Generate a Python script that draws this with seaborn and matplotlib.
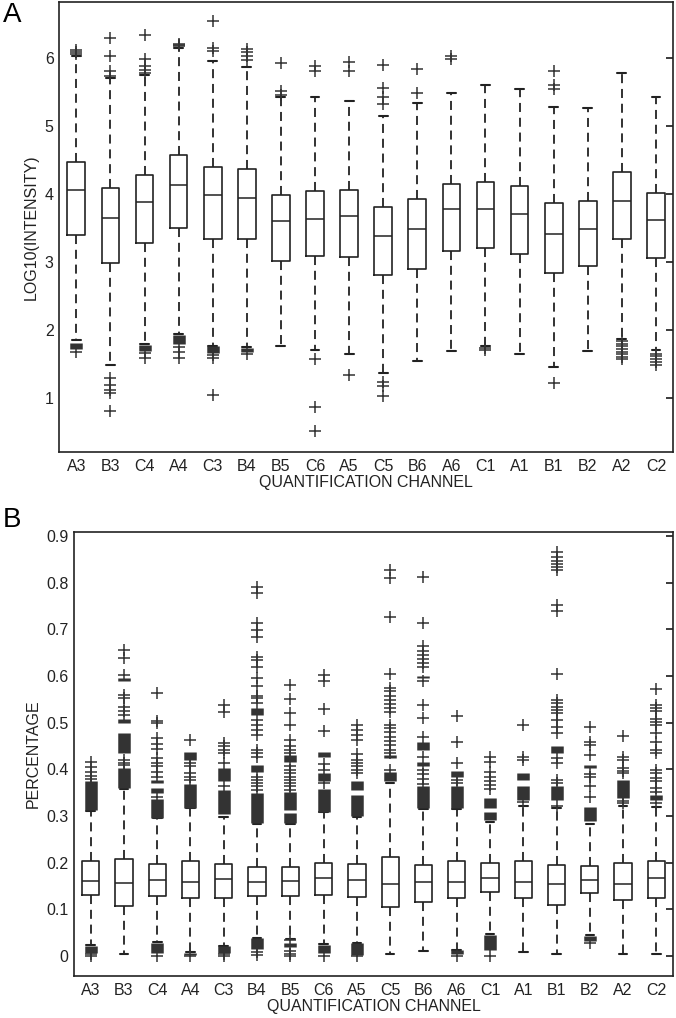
import numpy as np
import pandas as pd
import matplotlib
matplotlib.use('Agg')
import matplotlib.pyplot as plt
import seaborn as sns

channels = ['A3', 'B3', 'C4', 'A4', 'C3', 'B4', 'B5', 'C6', 'A5',
            'C5', 'B6', 'A6', 'C1', 'A1', 'B1', 'B2', 'A2', 'C2']

# ---- panel A : log10(intensity) ----
lo_a = [1.85, 1.49, 1.80, 1.94, 1.77, 1.75, 1.77, 1.70, 1.64,
        1.37, 1.54, 1.69, 1.77, 1.64, 1.45, 1.69, 1.87, 1.70]
q1_a = [3.40, 2.99, 3.28, 3.50, 3.34, 3.33, 3.01, 3.09, 3.07,
        2.80, 2.90, 3.16, 3.20, 3.12, 2.84, 2.94, 3.33, 3.06]
med_a = [4.05, 3.65, 3.88, 4.13, 3.99, 3.94, 3.60, 3.63, 3.67,
         3.38, 3.49, 3.78, 3.78, 3.70, 3.41, 3.49, 3.90, 3.61]
q3_a = [4.47, 4.08, 4.28, 4.57, 4.40, 4.36, 3.99, 4.04, 4.06,
        3.80, 3.92, 4.15, 4.17, 4.11, 3.87, 3.90, 4.32, 4.02]
hi_a = [6.03, 5.71, 5.75, 6.15, 5.96, 5.86, 5.42, 5.43, 5.36,
        5.14, 5.33, 5.48, 5.60, 5.54, 5.27, 5.26, 5.77, 5.43]
out_a = [
    [6.06, 6.09, 6.12, 1.68],
    [6.29, 6.03, 5.81, 5.74, 1.30, 1.19, 1.12, 1.08, 0.81],
    [6.33, 5.98, 5.88, 5.82, 5.77, 1.66, 1.58],
    [6.17, 6.19, 6.21, 1.75, 1.68, 1.58],
    [6.54, 6.15, 6.10, 1.63, 1.59, 1.05],
    [6.13, 6.08, 6.03, 5.97, 1.65],
    [5.93, 5.51, 5.46],
    [5.88, 5.81, 1.57, 0.87, 0.52],
    [5.94, 5.81, 1.34],
    [5.90, 5.56, 5.42, 5.32, 1.24, 1.18, 1.03],
    [5.84, 5.48],
    [6.03, 5.98],
    [1.74, 1.71],
    [],
    [5.80, 5.60, 5.54, 1.22],
    [],
    [1.84, 1.80, 1.76, 1.72, 1.68, 1.64, 1.60, 1.57],
    [1.65, 1.61, 1.57, 1.53, 1.49],
]
# dense clusters of outliers (drawn as solid bars)
band_a_chan = ['A3', 'C4', 'A4', 'C3', 'B4']
band_a_lo = [1.72, 1.69, 1.80, 1.66, 1.68]
band_a_hi = [1.81, 1.78, 1.93, 1.76, 1.73]

# ---- panel B : percentage ----
lo_b = [0.024, 0.005, 0.030, 0.009, 0.021, 0.039, 0.036, 0.026, 0.028,
        0.003, 0.011, 0.013, 0.047, 0.009, 0.005, 0.045, 0.005, 0.005]
q1_b = [0.130, 0.107, 0.128, 0.125, 0.125, 0.128, 0.128, 0.130, 0.126,
        0.104, 0.116, 0.125, 0.136, 0.124, 0.110, 0.134, 0.119, 0.124]
med_b = [0.161, 0.156, 0.162, 0.158, 0.164, 0.158, 0.161, 0.166, 0.162,
         0.155, 0.158, 0.158, 0.166, 0.158, 0.153, 0.162, 0.155, 0.166]
q3_b = [0.203, 0.207, 0.196, 0.203, 0.196, 0.191, 0.191, 0.200, 0.196,
        0.212, 0.194, 0.204, 0.198, 0.204, 0.194, 0.193, 0.200, 0.203]
hi_b = [0.310, 0.358, 0.295, 0.316, 0.298, 0.283, 0.283, 0.308, 0.298,
        0.370, 0.314, 0.315, 0.286, 0.322, 0.316, 0.283, 0.322, 0.320]
out_b = [
    [0.380, 0.386, 0.393, 0.405, 0.416, 0.0, 0.003],
    [0.656, 0.638, 0.602, 0.559, 0.552, 0.534, 0.524, 0.516, 0.420, 0.413, 0.408],
    [0.563, 0.504, 0.499, 0.466, 0.454, 0.443, 0.424, 0.413, 0.406, 0.395, 0.384, 0.340, 0.0],
    [0.463, 0.413, 0.406, 0.391, 0.384, 0.377, 0.0],
    [0.537, 0.523, 0.456, 0.449, 0.441, 0.434, 0.413, 0.363, 0.0, 0.003],
    [0.791, 0.777, 0.713, 0.699, 0.684, 0.641, 0.634, 0.620, 0.595, 0.579, 0.557, 0.552,
     0.542, 0.506, 0.495, 0.484, 0.474, 0.441, 0.434, 0.427, 0.384, 0.377, 0.370, 0.363,
     0.356, 0.009, 0.002],
    [0.581, 0.551, 0.520, 0.495, 0.463, 0.449, 0.441, 0.434, 0.406, 0.399, 0.391, 0.384,
     0.377, 0.370, 0.363, 0.356, 0.034, 0.011, 0.004, 0.0],
    [0.602, 0.590, 0.529, 0.481, 0.411, 0.399, 0.370, 0.0],
    [0.495, 0.484, 0.474, 0.463, 0.433, 0.420, 0.413, 0.406, 0.399, 0.391, 0.0],
    [0.827, 0.809, 0.727, 0.604, 0.575, 0.567, 0.557, 0.549, 0.540, 0.531, 0.522, 0.495,
     0.488, 0.479, 0.469, 0.460, 0.451, 0.441, 0.434, 0.399],
    [0.813, 0.713, 0.664, 0.654, 0.645, 0.636, 0.627, 0.619, 0.588, 0.538, 0.509, 0.470,
     0.427, 0.399, 0.390, 0.380, 0.369],
    [0.513, 0.459, 0.413, 0.377, 0.371, 0.0],
    [0.427, 0.416, 0.393, 0.384, 0.375, 0.366, 0.357, 0.0],
    [0.495, 0.427, 0.420, 0.329],
    [0.865, 0.854, 0.847, 0.840, 0.833, 0.827, 0.751, 0.740, 0.603, 0.549, 0.542, 0.534,
     0.527, 0.520, 0.506, 0.491, 0.477, 0.424, 0.413, 0.377, 0.370, 0.321],
    [0.491, 0.459, 0.452, 0.431, 0.390, 0.384, 0.364, 0.341, 0.028],
    [0.471, 0.427, 0.420, 0.402, 0.396, 0.391, 0.331, 0.327],
    [0.571, 0.538, 0.531, 0.524, 0.507, 0.501, 0.495, 0.477, 0.459, 0.441, 0.434, 0.399,
     0.391, 0.381, 0.374, 0.359, 0.352, 0.327],
]
band_b_chan = ['A3', 'A3', 'B3', 'B3', 'B3', 'B3', 'C4', 'C4', 'C4', 'C4',
               'A4', 'A4', 'A4', 'C3', 'C3', 'C3', 'B4', 'B4', 'B4', 'B4',
               'B5', 'B5', 'B5', 'B5', 'C6', 'C6', 'C6', 'C6', 'A5', 'A5', 'A5',
               'C5', 'C5', 'B6', 'B6', 'B6', 'B6', 'A6', 'A6', 'A6',
               'C1', 'C1', 'C1', 'A1', 'A1', 'B1', 'B1', 'B2', 'B2', 'B2',
               'A2', 'C2']
band_b_lo = [0.313, 0.006, 0.359, 0.434, 0.499, 0.588, 0.295, 0.349, 0.370, 0.006,
             0.316, 0.420, 0.001, 0.305, 0.374, 0.006, 0.284, 0.395, 0.516, 0.014,
             0.284, 0.313, 0.416, 0.020, 0.309, 0.374, 0.427, 0.006, 0.299, 0.356, 0.002,
             0.375, 0.425, 0.316, 0.406, 0.441, 0.595, 0.316, 0.384, 0.005,
             0.291, 0.316, 0.012, 0.334, 0.377, 0.334, 0.434, 0.288, 0.402, 0.032,
             0.338, 0.334]
band_b_hi = [0.375, 0.021, 0.402, 0.478, 0.507, 0.596, 0.336, 0.359, 0.377, 0.028,
             0.369, 0.436, 0.007, 0.356, 0.402, 0.021, 0.349, 0.410, 0.531, 0.039,
             0.306, 0.352, 0.431, 0.028, 0.357, 0.392, 0.436, 0.024, 0.345, 0.374, 0.027,
             0.395, 0.430, 0.363, 0.416, 0.459, 0.600, 0.363, 0.397, 0.012,
             0.309, 0.338, 0.044, 0.363, 0.391, 0.363, 0.449, 0.320, 0.409, 0.042,
             0.377, 0.345]

sns.set_theme(style='white')
plt.rcParams['font.family'] = ['Liberation Sans', 'DejaVu Sans']
ink = '#222222'
grey = '#333333'


def box_frame(lo, q1, med, q3, hi):
    # five values per channel -> quartiles & whisker ends come out exactly
    rows = []
    for i, ch in enumerate(channels):
        for v in (lo[i], q1[i], med[i], q3[i], hi[i]):
            rows.append((ch, v))
    return pd.DataFrame(rows, columns=['channel', 'value'])


def draw_panel(ax, lo, q1, med, q3, hi, outs, bchan, blo, bhi):
    df = box_frame(lo, q1, med, q3, hi)
    sns.boxplot(data=df, x='channel', y='value', order=channels, ax=ax,
                fill=False, color=ink, linewidth=1.2, width=0.52,
                whis=(0, 100), showfliers=False,
                whiskerprops={'linestyle': (0, (5, 3.2)), 'linewidth': 1.3},
                capprops={'linewidth': 1.5},
                medianprops={'color': ink, 'linewidth': 1.1})
    pos = {ch: i for i, ch in enumerate(channels)}
    ox, oy = [], []
    for i, vals in enumerate(outs):
        ox += [i] * len(vals)
        oy += vals
    ax.vlines([pos[c] for c in bchan], blo, bhi, color=grey, linewidth=9,
              zorder=3)
    sns.scatterplot(x=ox, y=oy, ax=ax, marker='+', color=grey, s=85,
                    linewidth=1.1, legend=False, zorder=4)
    ax.set_xlim(-0.5, 17.5)
    ax.set_xticks(range(len(channels)))
    ax.set_xticklabels(channels)
    ax.tick_params(axis='x', length=0, pad=5, labelsize=11.5, colors=ink)
    ax.tick_params(axis='y', direction='in', length=5, right=True,
                   labelsize=11.5, colors=ink, pad=4)
    ax.set_xlabel('QUANTIFICATION CHANNEL', fontsize=11.5, color=ink, labelpad=1)
    for s in ax.spines.values():
        s.set_color(ink)
        s.set_linewidth(1.2)


fig = plt.figure(figsize=(6.76, 10.18), dpi=100)
ax_a = fig.add_axes([0.0877, 0.5563, 0.9079, 0.4417])
ax_b = fig.add_axes([0.1095, 0.0413, 0.8861, 0.4364])

draw_panel(ax_a, lo_a, q1_a, med_a, q3_a, hi_a, out_a,
           band_a_chan, band_a_lo, band_a_hi)
ax_a.set_ylim(0.21, 6.82)
ax_a.set_yticks([1, 2, 3, 4, 5, 6])
ax_a.set_ylabel('LOG10(INTENSITY)', fontsize=11.5, color=ink)

draw_panel(ax_b, lo_b, q1_b, med_b, q3_b, hi_b, out_b,
           band_b_chan, band_b_lo, band_b_hi)
ax_b.set_ylim(-0.043, 0.909)
ticks_b = [0, 0.1, 0.2, 0.3, 0.4, 0.5, 0.6, 0.7, 0.8, 0.9]
ax_b.set_yticks(ticks_b)
ax_b.set_yticklabels(['0'] + ['%.1f' % t for t in ticks_b[1:]])
ax_b.set_ylabel('PERCENTAGE', fontsize=11.5, color=ink)

fig.text(0.004, 0.998, 'A', fontsize=20, va='top', ha='left', color='black')
fig.text(0.004, 1 - 507 / 1018, 'B', fontsize=20, va='top', ha='left', color='black')

fig.savefig('out.png', dpi=100, facecolor='white')
